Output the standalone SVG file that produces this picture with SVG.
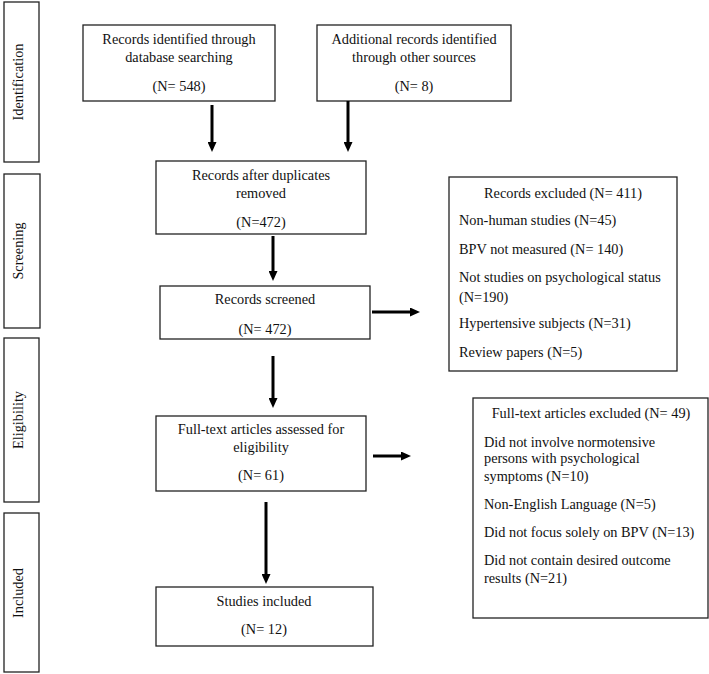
<svg xmlns="http://www.w3.org/2000/svg" width="709" height="674" viewBox="0 0 709 674">
<style>
.box{fill:#fff;stroke:#222;stroke-width:1.3}
text{font-family:"Liberation Serif","Times New Roman",serif;font-size:14.3px;fill:#111}
.c{text-anchor:middle}
.arr{stroke:#000;stroke-width:3;fill:none;marker-end:url(#ah)}
</style>
<defs>
<marker id="ah" markerUnits="userSpaceOnUse" markerWidth="10" markerHeight="9" refX="2" refY="4.5" orient="auto">
<path d="M0,0 L10,4.5 L0,9 z" fill="#000"/>
</marker>
</defs>
<rect width="709" height="674" fill="#fff"/>
<g id="lbl-identification">
<rect class="box" x="4" y="2" width="35" height="160"/>
<text class="c" transform="translate(22.5,82) rotate(-90)">Identification</text>
</g>
<g id="lbl-screening">
<rect class="box" x="4" y="174" width="36" height="154"/>
<text class="c" transform="translate(22.5,251) rotate(-90)">Screening</text>
</g>
<g id="lbl-eligibility">
<rect class="box" x="4" y="338" width="35" height="164"/>
<text class="c" transform="translate(22.5,420) rotate(-90)">Eligibility</text>
</g>
<g id="lbl-included">
<rect class="box" x="4" y="513" width="35" height="159"/>
<text class="c" transform="translate(22.5,593) rotate(-90)">Included</text>
</g>
<g id="n-database">
<rect class="box" x="83" y="25" width="192" height="76"/>
<text class="c" x="179" y="44">Records identified through</text>
<text class="c" x="179" y="62">database searching</text>
<text class="c" x="179" y="91">(N= 548)</text>
</g>
<g id="n-other">
<rect class="box" x="317" y="25" width="194" height="76"/>
<text class="c" x="414" y="44">Additional records identified</text>
<text class="c" x="414" y="62">through other sources</text>
<text class="c" x="414" y="91">(N= 8)</text>
</g>
<g id="n-dedup">
<rect class="box" x="156" y="161" width="210" height="73"/>
<text class="c" x="261" y="180">Records after duplicates</text>
<text class="c" x="261" y="198">removed</text>
<text class="c" x="261" y="227">(N=472)</text>
</g>
<g id="n-screened">
<rect class="box" x="160" y="286" width="210" height="53"/>
<text class="c" x="265" y="304">Records screened</text>
<text class="c" x="265" y="334">(N= 472)</text>
</g>
<g id="n-fulltext">
<rect class="box" x="156" y="416" width="210" height="75"/>
<text class="c" x="261" y="434">Full-text articles assessed for</text>
<text class="c" x="261" y="452">eligibility</text>
<text class="c" x="261" y="480">(N= 61)</text>
</g>
<g id="n-included">
<rect class="box" x="156" y="587" width="217" height="59"/>
<text class="c" x="264" y="606">Studies included</text>
<text class="c" x="264" y="634">(N= 12)</text>
</g>
<g id="n-excluded1">
<rect class="box" x="449" y="177" width="228" height="194"/>
<text class="c" x="563" y="198">Records excluded (N= 411)</text>
<text x="459" y="225">Non-human studies (N=45)</text>
<text x="459" y="254">BPV not measured (N= 140)</text>
<text x="459" y="282">Not studies on psychological status</text>
<text x="459" y="302">(N=190)</text>
<text x="459" y="328">Hypertensive subjects (N=31)</text>
<text x="459" y="357">Review papers (N=5)</text>
</g>
<g id="n-excluded2">
<rect class="box" x="473" y="398" width="235" height="220"/>
<text class="c" x="591" y="418">Full-text articles excluded (N= 49)</text>
<text x="484" y="447">Did not involve normotensive</text>
<text x="484" y="463">persons with psychological</text>
<text x="484" y="481">symptoms (N=10)</text>
<text x="484" y="509">Non-English Language (N=5)</text>
<text x="484" y="537">Did not focus solely on BPV (N=13)</text>
<text x="484" y="565">Did not contain desired outcome</text>
<text x="484" y="583">results (N=21)</text>
</g>
<g id="connectors">
<path class="arr" d="M212,105 V144"/>
<path class="arr" d="M348,101 V144"/>
<path class="arr" d="M273,236 V273"/>
<path class="arr" d="M273,356 V400"/>
<path class="arr" d="M266,502 V576"/>
<path class="arr" d="M372,312 H412"/>
<path class="arr" d="M373,456 H403"/>
</g>
</svg>
